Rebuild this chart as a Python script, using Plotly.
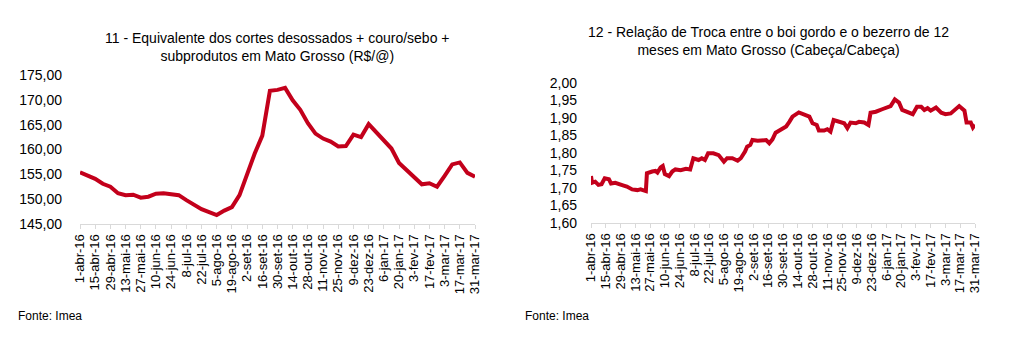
import pandas as pd
import plotly.graph_objects as go

# ---------------- data ----------------
# Chart 11: weekly values (R$/@), starting 1-abr-16, every 7 days
eq_start = "2016-04-01"
eq_values = [
    155.4, 154.8, 154.1, 153.1, 152.5, 151.2, 150.8, 150.9, 150.3, 150.5,
    151.1, 151.2, 151.1, 150.8, 149.8, 148.9, 148.0, 147.4, 146.8, 147.7,
    148.4, 150.8, 155.2, 159.2, 162.8, 171.8, 172.0, 172.4, 169.9, 168.0,
    165.3, 163.2, 162.2, 161.6, 160.6, 160.7, 163.0, 162.5, 165.1, 163.5,
    161.9, 160.2, 157.3, 155.9, 154.4, 153.0, 153.2, 152.5, 154.7, 157.0,
    157.4, 155.3, 154.5,
]

# Chart 12: exchange ratio (head/head)
rt_dates = [
    "2016-04-01", "2016-04-02", "2016-04-05", "2016-04-08", "2016-04-11", "2016-04-14",
    "2016-04-18", "2016-04-20", "2016-04-24", "2016-04-27", "2016-05-02", "2016-05-05",
    "2016-05-10", "2016-05-15", "2016-05-18", "2016-05-23", "2016-05-24", "2016-05-29",
    "2016-06-01", "2016-06-03", "2016-06-06", "2016-06-08", "2016-06-10", "2016-06-14",
    "2016-06-17", "2016-06-20", "2016-06-25", "2016-06-30", "2016-07-04", "2016-07-07",
    "2016-07-12", "2016-07-15", "2016-07-18", "2016-07-21", "2016-07-26", "2016-07-31",
    "2016-08-05", "2016-08-08", "2016-08-13", "2016-08-18", "2016-08-21", "2016-08-25",
    "2016-08-27", "2016-08-30", "2016-09-01", "2016-09-06", "2016-09-10", "2016-09-14",
    "2016-09-17", "2016-09-20", "2016-09-23", "2016-09-28", "2016-10-03", "2016-10-06",
    "2016-10-09", "2016-10-15", "2016-10-20", "2016-10-25", "2016-10-28", "2016-11-01",
    "2016-11-03", "2016-11-08", "2016-11-11", "2016-11-14", "2016-11-17", "2016-11-22",
    "2016-11-27", "2016-11-30", "2016-12-03", "2016-12-08", "2016-12-11", "2016-12-16",
    "2016-12-20", "2016-12-22", "2016-12-27", "2017-01-02", "2017-01-10", "2017-01-14",
    "2017-01-18", "2017-01-21", "2017-01-26", "2017-01-31", "2017-02-04", "2017-02-08",
    "2017-02-11", "2017-02-14", "2017-02-17", "2017-02-22", "2017-02-27", "2017-03-03",
    "2017-03-08", "2017-03-13", "2017-03-16", "2017-03-21", "2017-03-23", "2017-03-27",
    "2017-03-29", "2017-03-31",
]
rt_values = [
    1.734, 1.715, 1.718, 1.709, 1.711, 1.728,
    1.725, 1.713, 1.715, 1.711, 1.707, 1.704,
    1.696, 1.694, 1.696, 1.691, 1.742, 1.747,
    1.749, 1.744, 1.759, 1.763, 1.740, 1.734,
    1.747, 1.753, 1.751, 1.755, 1.753, 1.785,
    1.780, 1.785, 1.780, 1.799, 1.799, 1.794,
    1.775, 1.785, 1.785, 1.778, 1.785, 1.804,
    1.818, 1.823, 1.837, 1.835, 1.835, 1.837,
    1.828, 1.839, 1.858, 1.868, 1.876, 1.889,
    1.904, 1.916, 1.911, 1.904, 1.885, 1.880,
    1.864, 1.864, 1.868, 1.861, 1.894, 1.889,
    1.885, 1.871, 1.887, 1.885, 1.889, 1.887,
    1.880, 1.915, 1.918, 1.925, 1.934, 1.953,
    1.944, 1.923, 1.918, 1.911, 1.932, 1.932,
    1.923, 1.928, 1.921, 1.930, 1.915, 1.911,
    1.913, 1.925, 1.934, 1.921, 1.887, 1.887,
    1.873, 1.881,
]

tick_labels = [
    "1-abr-16", "15-abr-16", "29-abr-16", "13-mai-16", "27-mai-16", "10-jun-16",
    "24-jun-16", "8-jul-16", "22-jul-16", "5-ago-16", "19-ago-16", "2-set-16",
    "16-set-16", "30-set-16", "14-out-16", "28-out-16", "11-nov-16", "25-nov-16",
    "9-dez-16", "23-dez-16", "6-jan-17", "20-jan-17", "3-fev-17", "17-fev-17",
    "3-mar-17", "17-mar-17", "31-mar-17",
]

title_left = "11 - Equivalente dos cortes desossados + couro/sebo +<br>subprodutos em Mato Grosso (R$/@)"
title_right = "12 - Relação de Troca entre o boi gordo e o bezerro de 12<br>meses em Mato Grosso (Cabeça/Cabeça)"
source_text = "Fonte: Imea"

# ---------------- figure ----------------
W, H = 1011, 355
RED = "#C3001B"
FONT = "Liberation Sans, Arial, sans-serif"

eq_dates = pd.date_range(eq_start, periods=len(eq_values), freq="7D")
tick_vals = pd.date_range("2016-04-01", periods=len(tick_labels), freq="14D")

fig = go.Figure()
fig.add_trace(go.Scatter(x=eq_dates, y=eq_values, mode="lines",
                         line=dict(color=RED, width=4), xaxis="x", yaxis="y",
                         showlegend=False, hoverinfo="skip"))
fig.add_trace(go.Scatter(x=pd.to_datetime(rt_dates), y=rt_values, mode="lines",
                         line=dict(color=RED, width=4), xaxis="x2", yaxis="y2",
                         showlegend=False, hoverinfo="skip"))

def xaxis(domain, anchor):
    return dict(domain=domain, anchor=anchor, type="date", automargin=False,
                range=["2016-04-01", "2017-03-31"],
                tickmode="array", tickvals=list(tick_vals), ticktext=tick_labels,
                tickangle=-90, tickfont=dict(size=13, color="#000", family=FONT),
                showline=True, linecolor="#d9d9d9", linewidth=1,
                ticks="outside", ticklen=4, tickcolor="#d9d9d9",
                showgrid=False, zeroline=False, fixedrange=True)

def yaxis(domain, anchor, rng, dtick, standoff):
    return dict(domain=domain, anchor=anchor, range=rng, dtick=dtick, automargin=False,
                tick0=rng[0], tickformat=".2f",
                tickfont=dict(size=14, color="#000", family=FONT),
                showline=False, showgrid=False, zeroline=False, ticks="",
                ticklabelstandoff=standoff, fixedrange=True)

fig.update_layout(
    width=W, height=H,
    margin=dict(l=0, r=0, t=0, b=0, pad=0, autoexpand=False),
    paper_bgcolor="white", plot_bgcolor="white",
    separators=",.",
    font=dict(family=FONT, color="#000"),
    xaxis=xaxis([80 / W, 475 / W], "y"),
    yaxis=yaxis([(H - 224) / H, (H - 75) / H], "x", [145, 175], 5, 17),
    xaxis2=xaxis([591 / W, 975 / W], "y2"),
    yaxis2=yaxis([(H - 223) / H, (H - 83) / H], "x2", [1.6, 2.0], 0.05, 13),
    annotations=[
        dict(text=title_left, x=277 / W, y=1 - 47 / H, xref="paper", yref="paper",
             xanchor="center", yanchor="middle", showarrow=False,
             font=dict(size=14, family=FONT, color="#000"), align="center"),
        dict(text=title_right, x=768 / W, y=1 - 41 / H, xref="paper", yref="paper",
             xanchor="center", yanchor="middle", showarrow=False,
             font=dict(size=14, family=FONT, color="#000"), align="center"),
        dict(text=source_text, x=16 / W, y=1 - 316 / H, xref="paper", yref="paper",
             xanchor="left", yanchor="middle", showarrow=False,
             font=dict(size=12, family=FONT, color="#000")),
        dict(text=source_text, x=523 / W, y=1 - 316 / H, xref="paper", yref="paper",
             xanchor="left", yanchor="middle", showarrow=False,
             font=dict(size=12, family=FONT, color="#000")),
    ],
)

fig.write_html(
    "out.html",
    config={"displayModeBar": False},
    post_script="document.body.style.margin='0';document.body.style.overflow='hidden';",
)
